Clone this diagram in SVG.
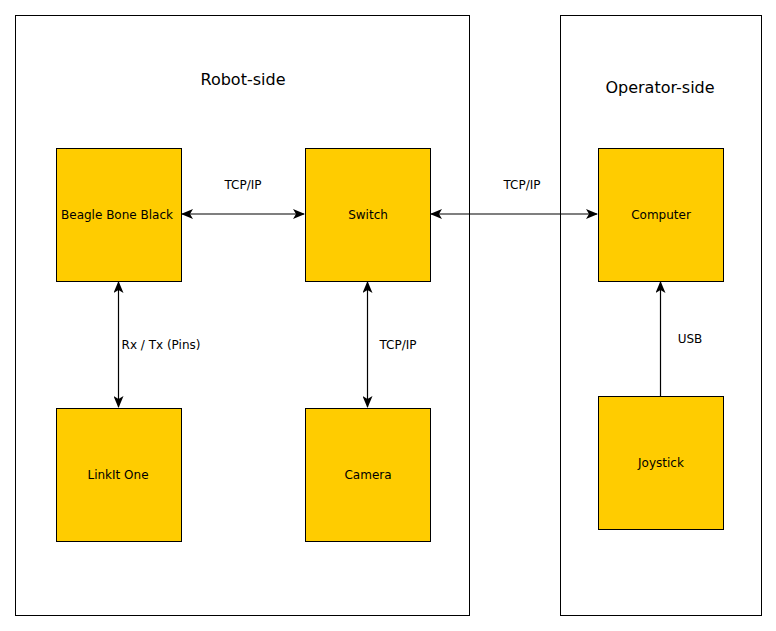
<svg xmlns="http://www.w3.org/2000/svg" width="776" height="631" viewBox="0 0 776 631">
<style>
.box{fill:#fff;stroke:#000;stroke-width:1}
.node{fill:#ffcc00;stroke:#000;stroke-width:1}
.lbl{font-family:"DejaVu Sans",sans-serif;font-size:12px;fill:#000;text-anchor:middle}
.title{font-family:"DejaVu Sans",sans-serif;font-size:16px;fill:#000;text-anchor:middle}
.edge{stroke:#000;stroke-width:1.2;fill:none}
</style>
<defs>
<marker id="ah" viewBox="0 0 12 10" refX="11" refY="5" markerWidth="12" markerHeight="10" markerUnits="userSpaceOnUse" orient="auto-start-reverse">
<path d="M0,0 L12,5 L0,10 L3,5 Z" fill="#000"/>
</marker>
</defs>
<rect width="776" height="631" fill="#fff"/>
<g id="robot-side">
<rect class="box" x="15.5" y="15.5" width="454" height="600"/>
<text class="title" x="243" y="85">Robot-side</text>
</g>
<g id="operator-side">
<rect class="box" x="560.5" y="15.5" width="201" height="600"/>
<text class="title" x="660" y="93">Operator-side</text>
</g>
<g id="connectors">
<line class="edge" x1="182" y1="214" x2="304" y2="214" marker-start="url(#ah)" marker-end="url(#ah)"/>
<text class="lbl" x="243" y="189">TCP/IP</text>
<line class="edge" x1="431" y1="214" x2="597" y2="214" marker-start="url(#ah)" marker-end="url(#ah)"/>
<text class="lbl" x="522" y="189">TCP/IP</text>
<line class="edge" x1="118.5" y1="282" x2="118.5" y2="407" marker-start="url(#ah)" marker-end="url(#ah)"/>
<text class="lbl" x="161" y="349">Rx / Tx (Pins)</text>
<line class="edge" x1="367.5" y1="282" x2="367.5" y2="407" marker-start="url(#ah)" marker-end="url(#ah)"/>
<text class="lbl" x="398" y="349">TCP/IP</text>
<line class="edge" x1="660.5" y1="396" x2="660.5" y2="282" marker-end="url(#ah)"/>
<text class="lbl" x="690" y="343">USB</text>
</g>
<g id="bbb">
<rect class="node" x="56.5" y="148.5" width="125" height="133"/>
<text class="lbl" x="117" y="219">Beagle Bone Black</text>
</g>
<g id="switch">
<rect class="node" x="305.5" y="148.5" width="125" height="133"/>
<text class="lbl" x="368" y="219">Switch</text>
</g>
<g id="computer">
<rect class="node" x="598.5" y="148.5" width="125" height="133"/>
<text class="lbl" x="661" y="219">Computer</text>
</g>
<g id="linkit">
<rect class="node" x="56.5" y="408.5" width="125" height="133"/>
<text class="lbl" x="118" y="479">LinkIt One</text>
</g>
<g id="camera">
<rect class="node" x="305.5" y="408.5" width="125" height="133"/>
<text class="lbl" x="368" y="479">Camera</text>
</g>
<g id="joystick">
<rect class="node" x="598.5" y="396.5" width="125" height="133"/>
<text class="lbl" x="661" y="467">Joystick</text>
</g>
</svg>
